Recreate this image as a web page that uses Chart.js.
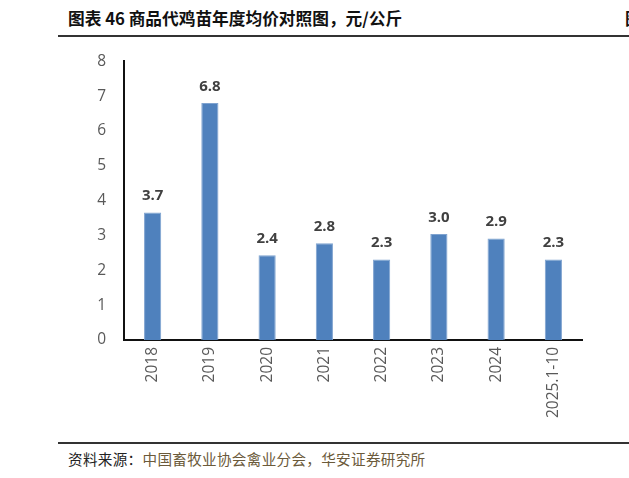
<!DOCTYPE html>
<html>
<head>
<meta charset="utf-8">
<script src="https://cdn.jsdelivr.net/npm/chart.js@4"></script>
<style>
  html, body { margin: 0; padding: 0; background: #fff; }
  body { width: 629px; height: 478px; position: relative; overflow: hidden; }
  .title {
    position: absolute; left: 68px; top: 6px;
    font-family: "Noto Sans CJK SC", sans-serif; font-weight: bold;
    font-size: 16.7px; color: #111; white-space: nowrap;
  }
  .title-cut {
    position: absolute; left: 625px; top: 6px;
    font-family: "Noto Sans CJK SC", sans-serif; font-weight: bold;
    font-size: 16.7px; color: #111;
  }
  .rule { position: absolute; left: 58px; right: 0; height: 1.5px; background: #333; }
  .source {
    position: absolute; left: 68px; top: 448px;
    font-family: "Noto Sans CJK SC", sans-serif; font-size: 14.6px;
    color: #6b5a3a; white-space: nowrap; letter-spacing: 0.3px;
  }
  .source b { font-weight: normal; color: #222; }
  #wrap { position: absolute; left: 0; top: 34px; width: 629px; height: 396px; }
</style>
</head>
<body>
<div class="title">图表 46 商品代鸡苗年度均价对照图，元/公斤</div>
<div class="title-cut">图</div>
<div class="rule" style="top:35px"></div>
<div id="wrap"><canvas id="chart"></canvas></div>
<div class="rule" style="top:442px"></div>
<div class="source"><b>资料来源：</b>中国畜牧业协会禽业分会，华安证券研究所</div>
<script>
const categories = ['2018', '2019', '2020', '2021', '2022', '2023', '2024', '2025.1-10'];
const prices = [3.66, 6.80, 2.43, 2.78, 2.31, 3.04, 2.91, 2.31];
const yTicks = [0, 1, 2, 3, 4, 5, 6, 7, 8];

// value labels above each bar
const barLabels = {
    id: 'barLabels',
    afterDatasetsDraw(chart) {
        const ctx = chart.ctx;
        const meta = chart.getDatasetMeta(0);
        ctx.save();
        ctx.font = 'bold 15px "Open Sans", sans-serif';
        ctx.fillStyle = '#404040';
        ctx.textAlign = 'center';
        ctx.textBaseline = 'bottom';
        meta.data.forEach((bar, i) => {
            ctx.fillText(prices[i].toFixed(1), bar.x, bar.y - 9);
        });
        ctx.restore();
    }
};

new Chart(document.getElementById('chart'), {
    type: 'bar',
    data: {
        labels: categories,
        datasets: [{
            data: prices,
            backgroundColor: '#4f81bd',
            borderColor: '#7fa3d0',
            borderWidth: { top: 1, left: 1, right: 1, bottom: 0 },
            categoryPercentage: 1,
            barPercentage: 0.3
        }]
    },
    options: {
        responsive: true,
        maintainAspectRatio: false,
        animation: false,
        layout: { padding: { top: 0, right: 47, left: 0, bottom: 0 } },
        plugins: { legend: { display: false }, tooltip: { enabled: false } },
        scales: {
            x: {
                grid: { display: false, drawTicks: false },
                border: { color: '#111', width: 2 },
                ticks: {
                    color: '#595959', minRotation: 90, maxRotation: 90, padding: 7,
                    font: { family: '"Open Sans", sans-serif', size: 15.5 }
                },
                afterFit(scale) { scale.height = 90; }
            },
            y: {
                min: 0, max: 8,
                grid: { display: false, drawTicks: false },
                border: { color: '#111', width: 2 },
                afterBuildTicks(scale) { scale.ticks = yTicks.map(v => ({ value: v })); },
                ticks: {
                    color: '#595959', padding: 18,
                    font: { family: '"Open Sans", sans-serif', size: 15.5 }
                },
                afterFit(scale) { scale.width = 124; }
            }
        }
    },
    plugins: [barLabels]
});
</script>
</body>
</html>
